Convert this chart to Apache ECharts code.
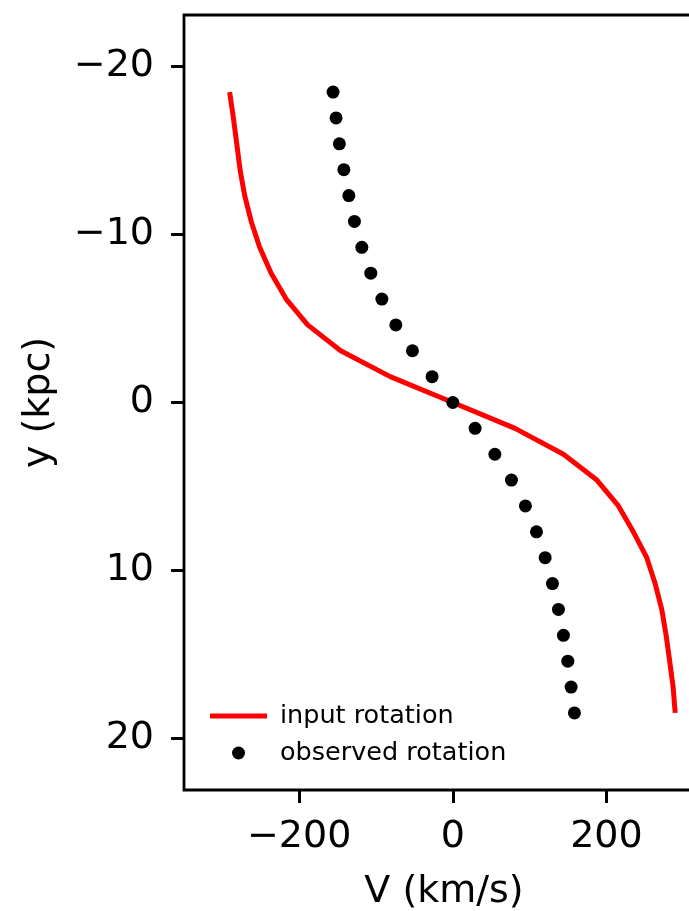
<!DOCTYPE html>
<html>
<head>
<meta charset="utf-8">
<script src="https://cdn.jsdelivr.net/npm/echarts@6/dist/echarts.min.js"></script>
<style>
  html, body { margin: 0; padding: 0; background: #fff; }
  #chart { width: 689px; height: 911px; }
</style>
</head>
<body>
<div id="chart"></div>
<script>
// Sample positions along the line of sight (kpc)
var yPos = [-18.48, -16.94, -15.40, -13.86, -12.32, -10.78, -9.24, -7.70, -6.16, -4.62, -3.08, -1.54, 0,
            1.54, 3.08, 4.62, 6.16, 7.70, 9.24, 10.78, 12.32, 13.86, 15.40, 16.94, 18.48];
// Input rotation velocity (km/s)
var inputV = [-290.6, -285.7, -281.3, -277.0, -271.0, -262.5, -251.5, -236.5, -217.0, -189.0, -146.0, -81.5, 0,
              81.0, 144.0, 187.5, 215.6, 235.0, 252.5, 263.4, 272.0, 277.7, 282.3, 286.8, 289.5];
// Observed rotation velocity (km/s)
var observedV = [-155.9, -152.0, -147.7, -141.9, -135.4, -128.1, -118.5, -106.8, -92.4, -74.2, -52.6, -27.0, 0,
                 29.0, 54.7, 76.3, 94.5, 108.9, 120.2, 129.7, 137.5, 144.0, 149.7, 154.0, 158.3];
// Tick labels
var xTicks = [-200, 0, 200];
var yTicks = [-20, -10, 0, 10, 20];

var FONT = '"DejaVu Sans", sans-serif';

function pairs(vs, ys) {
  return vs.map(function (v, i) { return [v, ys[i]]; });
}
function minusFmt(v) {
  return String(v).replace('-', '\u2212');
}

var chart = echarts.init(document.getElementById('chart'), null, { renderer: 'canvas' });

chart.setOption({
  animation: false,
  backgroundColor: '#ffffff',
  grid: {
    left: 184, top: 15, width: 520, bottom: 121,
    containLabel: false,
    outerBoundsMode: 'none',
    show: true, borderColor: '#000', borderWidth: 2.8, backgroundColor: 'transparent'
  },
  xAxis: {
    type: 'value',
    min: -350, max: 327,
    name: 'V (km/s)',
    nameLocation: 'middle',
    nameGap: 83,
    nameTextStyle: { fontFamily: FONT, fontSize: 38, color: '#000' },
    axisLine: { show: false, onZero: false },
    axisTick: { show: true, length: 13, inside: false, customValues: xTicks,
                lineStyle: { color: '#000', width: 3 } },
    axisLabel: { show: true, customValues: xTicks, margin: 28, formatter: minusFmt,
                 fontFamily: FONT, fontSize: 38, color: '#000' },
    splitLine: { show: false }
  },
  yAxis: {
    type: 'value',
    inverse: true,
    min: -23.07, max: 23.07,
    name: 'y (kpc)',
    nameLocation: 'middle',
    nameGap: 126,
    nameTextStyle: { fontFamily: FONT, fontSize: 38, color: '#000' },
    axisLine: { show: false, onZero: false },
    axisTick: { show: true, length: 13, inside: false, customValues: yTicks,
                lineStyle: { color: '#000', width: 3 } },
    axisLabel: { show: true, customValues: yTicks, margin: 30, formatter: minusFmt,
                 fontFamily: FONT, fontSize: 38, color: '#000' },
    splitLine: { show: false }
  },
  legend: {
    orient: 'vertical',
    left: 205, top: 698,
    itemWidth: 57, itemHeight: 13, itemGap: 11,
    textStyle: { fontFamily: FONT, fontSize: 25.5, color: '#000', padding: [0, 0, 0, 8] },
    data: [
      { name: 'input rotation', icon: 'path://M0,0L57,0L57,5L0,5Z', itemStyle: { color: '#ff0000' } },
      { name: 'observed rotation', icon: 'circle' }
    ]
  },
  series: [
    {
      name: 'input rotation',
      type: 'line',
      data: pairs(inputV, yPos),
      symbol: 'none',
      lineStyle: { color: '#ff0000', width: 5 },
      itemStyle: { color: '#ff0000' },
      z: 2
    },
    {
      name: 'observed rotation',
      type: 'scatter',
      data: pairs(observedV, yPos),
      symbol: 'circle',
      symbolSize: 13,
      itemStyle: { color: '#000', opacity: 1 },
      z: 3
    }
  ]
});
</script>
</body>
</html>
